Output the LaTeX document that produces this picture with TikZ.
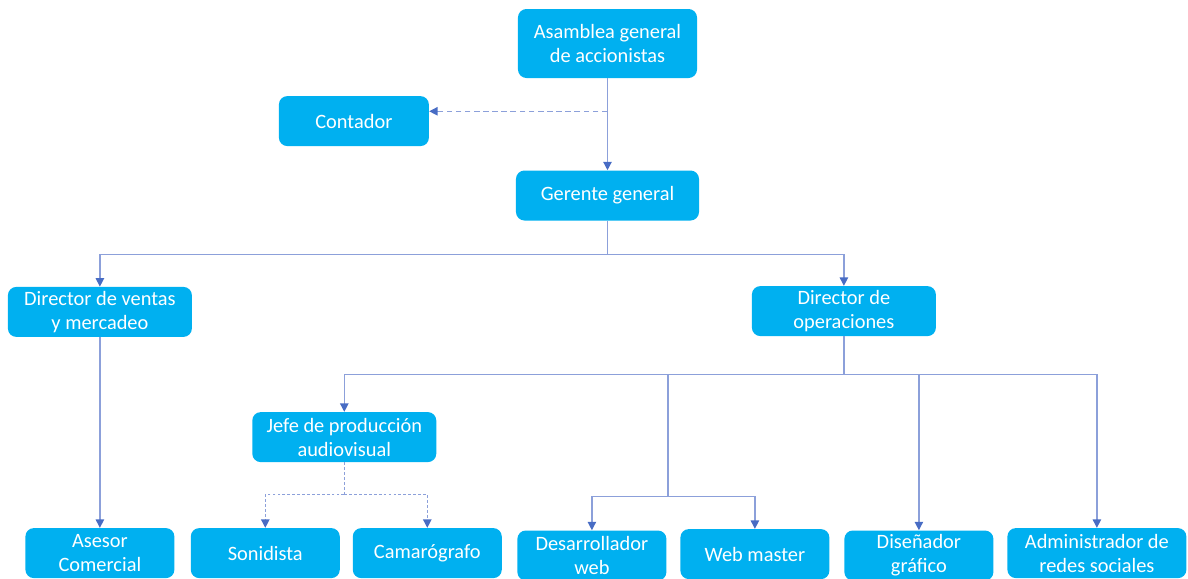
\documentclass[tikz,border=0pt]{standalone}
\usepackage{fontspec}
\setmainfont{Carlito}
\usepackage{tikz}
\usetikzlibrary{calc,positioning,arrows.meta}

\definecolor{boxblue}{RGB}{0,176,240}
\definecolor{linkblue}{RGB}{140,160,218}
\definecolor{tipblue}{RGB}{72,108,196}

\tikzset{
  puesto/.style={rectangle,rounded corners=6pt,fill=boxblue,text=white,align=center,
    minimum height=1.25cm,minimum width=4.6cm,inner sep=2pt,
    font=\fontsize{14.5}{17}\selectfont},
  base/.style={puesto,minimum width=3.725cm},
  link/.style={draw=linkblue,line width=0.9pt,-{Triangle[width=6pt,length=6pt,color=tipblue]}},
  plain/.style={draw=linkblue,line width=0.9pt},
  elbow/.style={link,to path={-| (\tikztotarget)}},
  dots/.style={dash pattern=on 2pt off 1.5pt}
}

\begin{document}
\begin{tikzpicture}
     \clip (-15.1875,1.0875) rectangle (14.5125,-13.3625);
     \useasboundingbox (-15.1875,1.0875) rectangle (14.5125,-13.3625);
     \node[puesto,minimum width=4.475cm,minimum height=1.725cm](asamblea){Asamblea general\\de accionistas};
     \node at ($(asamblea)+(-6.34,-1.94)$)[puesto,minimum width=3.75cm](contador){Contador};
     \node at ($(asamblea)+(0,-3.8)$)[puesto,minimum width=4.575cm](gerente){Gerente general};
     \node at ($(gerente)+(-12.69,-2.91)$)[puesto](ventas){Director de ventas\\y mercadeo};
     \node at ($(gerente)+(5.91,-2.89)$)[puesto](operaciones){Director de\\operaciones};
     \node at ($(operaciones)+(-12.49,-3.15)$)[puesto](jefe){Jefe de producci\'on\\audiovisual};
     \node at ($(ventas)+(0,-6.03)$)[base](asesor){Asesor\\Comercial};
     \node at ($(jefe)+(-1.975,-2.9)$)[base](sonidista){Sonidista};
     \node at ($(jefe)+(2.075,-2.9)$)[base](camarografo){Camar\'ografo};
     \node at ($(operaciones)+(-6.3,-6.11)$)[base](desarrollador){Desarrollador\\web};
     \node at ($(operaciones)+(-2.225,-6.075)$)[base](webmaster){Web master};
     \node at ($(operaciones)+(1.875,-6.11)$)[base](disenador){Dise\~nador\\gr\'afico};
     \node at ($(operaciones)+(6.325,-6.05)$)[puesto,minimum width=4.475cm](admin){Administrador de\\redes sociales};
     % branch points
     \coordinate (cbranch) at ($(asamblea.south)+(0,-0.825)$);
     \coordinate (gbus) at ($(gerente.south)+(0,-0.85)$);
     \coordinate (obus) at ($(operaciones.south)+(0,-0.95)$);
     \coordinate (obranch) at ($(obus)+(-4.4,0)$);
     \coordinate (wbus) at ($(obranch)+(0,-3.05)$);
     \coordinate (jbus) at ($(jefe.south)+(0,-0.8)$);
     \path(asamblea)edge[link](gerente);
     \path(cbranch)edge[link,dash pattern=on 4pt off 2.5pt](cbranch -| contador.east);
     \path(gerente.south)edge[plain](gbus);
     \path(gbus)edge[elbow](ventas.north)edge[elbow](operaciones.north);
     \path(ventas)edge[link](asesor);
     \path(operaciones.south)edge[plain](obus);
     \path(obus)edge[elbow](jefe.north)edge[elbow](disenador.north)edge[elbow](admin.north);
     \path(obus)edge[plain](obranch)(obranch)edge[plain](wbus);
     \path(wbus)edge[elbow](desarrollador.north)edge[elbow](webmaster.north);
     \path(jefe.south)edge[plain,dots](jbus);
     \path(jbus)edge[elbow,dots](sonidista.north)edge[elbow,dots](camarografo.north);
\end{tikzpicture}
\end{document}
